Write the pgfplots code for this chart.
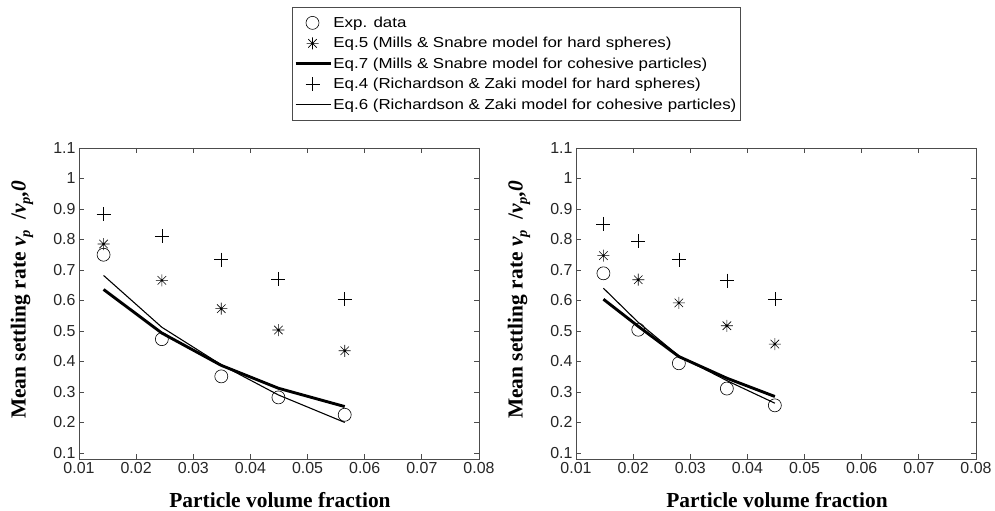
\documentclass[border=0pt]{standalone}
\usepackage{pgfplots}
\pgfplotsset{compat=1.18}
\usepackage{pgfplotstable}
\usepackage{fontspec}
\setmainfont{Liberation Serif}
\setsansfont{Liberation Sans}
\newfontfamily\legendfont{Liberation Sans}[FakeStretch=1.17]

% matlab style eight-arm asterisk
\pgfdeclareplotmark{star8}{%
  \pgfpathmoveto{\pgfqpoint{0pt}{\pgfplotmarksize}}%
  \pgfpathlineto{\pgfqpoint{0pt}{-\pgfplotmarksize}}%
  \pgfpathmoveto{\pgfqpoint{\pgfplotmarksize}{0pt}}%
  \pgfpathlineto{\pgfqpoint{-\pgfplotmarksize}{0pt}}%
  \pgfpathmoveto{\pgfqpoint{0.707\pgfplotmarksize}{0.707\pgfplotmarksize}}%
  \pgfpathlineto{\pgfqpoint{-0.707\pgfplotmarksize}{-0.707\pgfplotmarksize}}%
  \pgfpathmoveto{\pgfqpoint{0.707\pgfplotmarksize}{-0.707\pgfplotmarksize}}%
  \pgfpathlineto{\pgfqpoint{-0.707\pgfplotmarksize}{0.707\pgfplotmarksize}}%
  \pgfusepathqstroke}

\pgfplotstableread{
x      exp    eqv   eqvii  eqiv   eqvi
0.0143 0.750  0.785 0.636  0.883  0.682
0.0245 0.473  0.666 0.493  0.810  0.512
0.0349 0.351  0.573 0.387  0.734  0.389
0.0449 0.282  0.503 0.312  0.671  0.290
0.0565 0.225  0.435 0.252  0.604  0.200
}\leftdata

\pgfplotstableread{
x      exp    eqv   eqvii  eqiv   eqvi
0.0148 0.689  0.747 0.604  0.851  0.640
0.0209 0.504  0.668 0.515  0.794  0.528
0.0280 0.394  0.592 0.416  0.734  0.418
0.0364 0.311  0.517 0.345  0.665  0.337
0.0448 0.256  0.457 0.285  0.604  0.263
}\rightdata

\definecolor{axgray}{gray}{0.3}
\definecolor{tickgray}{gray}{0.15}

\newcommand{\ylab}{\textbf{Mean settling rate \textit{v\raisebox{-0.45ex}{\fontsize{14.5}{14}\selectfont p}}\ \ /\textit{v\raisebox{-0.45ex}{\fontsize{14.5}{14}\selectfont p},0}}}

\pgfplotsset{
  chartstyle/.style={
    scale only axis,
    width=400bp, height=311bp,
    anchor=south west,
    xmin=0.01, xmax=0.08,
    ymin=0.08, ymax=1.1,
    xtick={0.01,0.02,...,0.08},
    ytick={0.1,0.2,...,1.1},
    scaled ticks=false,
    xticklabels={0.01,0.02,0.03,0.04,0.05,0.06,0.07,0.08},
    yticklabels={0.1,0.2,0.3,0.4,0.5,0.6,0.7,0.8,0.9,1,1.1},
    axis line style={axgray, line width=0.9pt},
    major tick style={axgray, line width=0.8pt},
    major tick length=5bp,
    tick align=inside,
    ticklabel style={font=\sffamily\fontsize{16}{16}\selectfont, text=tickgray},
    xlabel={\textbf{Particle volume fraction}},
    ylabel={\ylab},
    label style={font=\fontsize{21.5}{22}\selectfont},
    xlabel style={at={(axis description cs:0.5025,-0.132)}, anchor=center},
    ylabel style={at={(axis description cs:-0.1425,0.512)}, anchor=center, rotate=0},
    clip=false,
  },
  expmark/.style={only marks, mark=o, mark size=6.5bp, draw=black, line width=0.6pt,
    legend image code/.code={\draw[##1] plot coordinates {(17bp,0bp)};}},
  eqvmark/.style={only marks, mark=star8, mark size=6bp, draw=black, line width=0.6pt,
    legend image code/.code={\draw[##1] plot coordinates {(17bp,0bp)};}},
  eqivmark/.style={only marks, mark=+, mark size=7bp, draw=black, line width=0.6pt,
    legend image code/.code={\draw[##1] plot coordinates {(17bp,0bp)};}},
  eqviiline/.style={no marks, black, line width=2.9pt,
    legend image code/.code={\draw[##1] (0bp,0bp) -- (35bp,0bp);}},
  eqviline/.style={no marks, black, line width=1.1pt,
    legend image code/.code={\draw[##1] (0bp,0bp) -- (35bp,0bp);}},
}

\begin{document}
\begin{tikzpicture}
\useasboundingbox (0,0) rectangle (995bp,511bp);

\begin{axis}[chartstyle, at={(79bp,52bp)},
  legend style={at={(axis description cs:1.0925,1.4534)}, anchor=north,
    font=\legendfont\fontsize{14.5}{16}\selectfont,
    draw=axgray, line width=0.8pt,
    inner xsep=2bp, inner ysep=8bp,
    row sep=5.5bp,
    cells={anchor=west},
    nodes={inner sep=1.5bp}},
  legend cell align=left,
]
\addplot[expmark] table[x=x, y=exp] {\leftdata};
\addlegendentry{Exp. data}
\addplot[eqvmark] table[x=x, y=eqv] {\leftdata};
\addlegendentry{Eq.5 (Mills \& Snabre model for hard spheres)}
\addplot[eqviiline] table[x=x, y=eqvii] {\leftdata};
\addlegendentry{Eq.7 (Mills \& Snabre model for cohesive particles)}
\addplot[eqivmark] table[x=x, y=eqiv] {\leftdata};
\addlegendentry{Eq.4 (Richardson \& Zaki model for hard spheres)}
\addplot[eqviline] table[x=x, y=eqvi] {\leftdata};
\addlegendentry{Eq.6 (Richardson \& Zaki model for cohesive particles)}
\end{axis}

\begin{axis}[chartstyle, at={(576bp,52bp)}]
\addplot[expmark] table[x=x, y=exp] {\rightdata};
\addplot[eqvmark] table[x=x, y=eqv] {\rightdata};
\addplot[eqviiline] table[x=x, y=eqvii] {\rightdata};
\addplot[eqivmark] table[x=x, y=eqiv] {\rightdata};
\addplot[eqviline] table[x=x, y=eqvi] {\rightdata};
\end{axis}
\end{tikzpicture}
\end{document}
